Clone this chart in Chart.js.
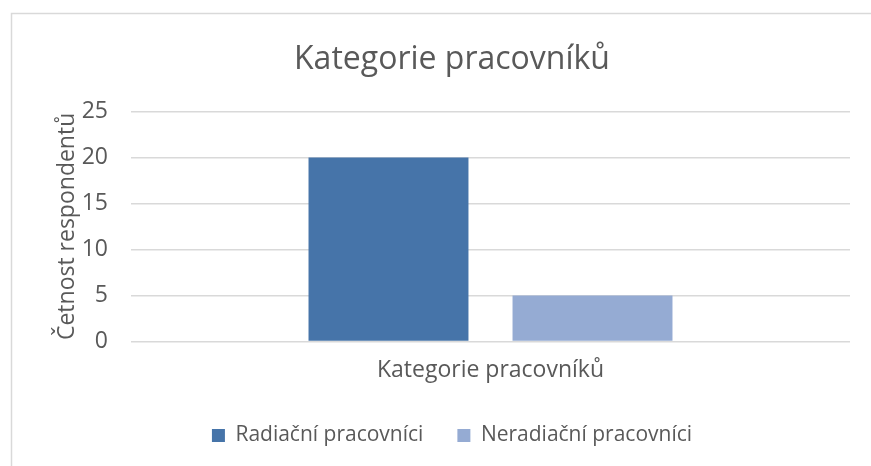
<!DOCTYPE html>
<html>
<head>
<meta charset="utf-8">
<script src="https://cdn.jsdelivr.net/npm/chart.js@4"></script>
<style>
  body { margin: 0; background: #fff; }
  #wrap { width: 871px; height: 466px; position: relative; }
</style>
</head>
<body>
<div id="wrap"><canvas id="myChart"></canvas></div>
<script>
const categories = ["Kategorie pracovníků"];
const seriesNames = ["Radiační pracovníci", "Neradiační pracovníci"];
const radiacni = [20];
const neradiacni = [5];
const yTicks = [0, 5, 10, 15, 20, 25];

const textColor = "#595959";
const fontFamily = "'Open Sans', 'Noto Sans', sans-serif";

// light frame around the chart (only top/left show in the picture)
const framePlugin = {
  id: "frame",
  beforeDraw(chart) {
    const ctx = chart.ctx;
    ctx.save();
    ctx.fillStyle = "#fff";
    ctx.fillRect(0, 0, chart.width, chart.height);
    ctx.strokeStyle = "#d9d9d9";
    ctx.lineWidth = 1.5;
    ctx.strokeRect(11.5, 13.5, chart.width + 20, chart.height + 20);
    ctx.restore();
  }
};

const ctx = document.getElementById("myChart").getContext("2d");
const chart = new Chart(ctx, {
  type: "bar",
  data: {
    labels: categories,
    datasets: [
      { label: seriesNames[0], data: radiacni, backgroundColor: "#4674A9" },
      { label: seriesNames[1], data: neradiacni, backgroundColor: "#95ABD3" }
    ]
  },
  options: {
    responsive: true,
    maintainAspectRatio: false,
    animation: false,
    categoryPercentage: 0.5675,
    barPercentage: 0.784,
    layout: { padding: { left: 54, right: 21, top: 41, bottom: 10 } },
    plugins: {
      title: {
        display: true,
        text: "Kategorie pracovníků",
        color: textColor,
        font: { family: fontFamily, size: 32, weight: "normal" },
        padding: { top: 0, bottom: 32 }
      },
      legend: {
        position: "bottom",
        labels: {
          color: textColor,
          font: { family: fontFamily, size: 21 },
          boxWidth: 13,
          boxHeight: 13,
          padding: 34
        }
      },
      tooltip: { enabled: false }
    },
    scales: {
      x: {
        grid: { display: false },
        border: { display: false },
        ticks: { color: textColor, font: { family: fontFamily, size: 23 }, padding: 7 }
      },
      y: {
        min: 0,
        max: 25,
        afterBuildTicks(axis) { axis.ticks = yTicks.map(v => ({ value: v })); },
        afterFit(axis) { axis.width = 77; },
        grid: { color: "#d9d9d9", lineWidth: 1.5, drawTicks: false },
        border: { display: false },
        ticks: { color: textColor, font: { family: fontFamily, size: 23 }, padding: 23 },
        title: {
          display: true,
          text: "Četnost respondentů",
          color: textColor,
          font: { family: fontFamily, size: 23 },
          padding: { top: 0, bottom: 0 }
        }
      }
    }
  },
  plugins: [framePlugin]
});
</script>
</body>
</html>
